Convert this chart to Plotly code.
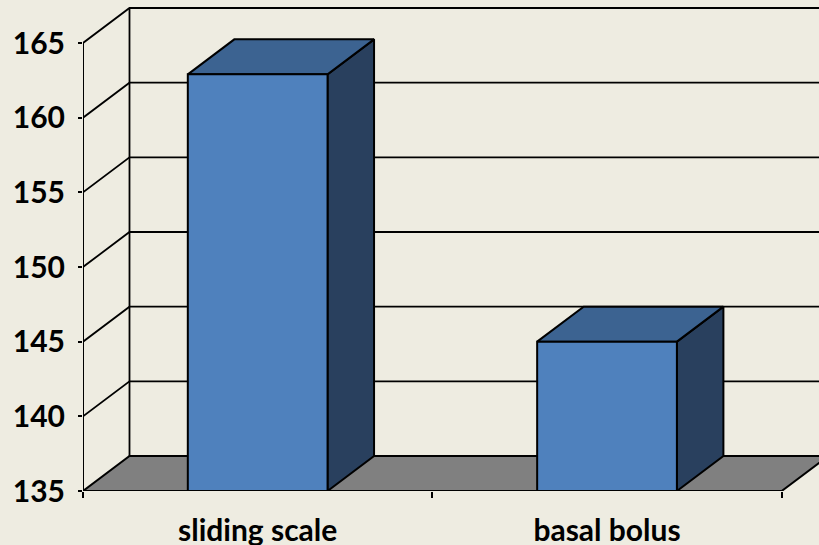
import plotly.graph_objects as go

# ---- data ----
categories = ["sliding scale", "basal bolus"]
values = [162.9, 145.0]
y_ticks = [135, 140, 145, 150, 155, 160, 165]

# ---- style / geometry ----
BG = "#EEECE1"
FRONT = "#4F81BD"
TOP = "#3C6391"
SIDE = "#29405E"
FLOOR = "#808080"
FONT = "Lato"

W, H = 819, 545
ML, MB = 83, 54
ymin, ymax_tick = 135, 165
px_per_x = (781.7 - 83) / 2.0          # pixels per category unit
px_per_y = (491 - 43) / 30.0           # pixels per value unit
x0 = -0.5
x_right = x0 + (W - ML) / px_per_x
y_top = ymin + (H - MB) / px_per_y
dx = 46.5 / px_per_x                   # depth offset (x)
dy = 35.0 / px_per_y                   # depth offset (y)
bw = 0.4                               # bar width (gap width 150%)
x_end = x0 + len(categories)

fig = go.Figure()

def poly(xs, ys, fill, lw=2.0):
    fig.add_trace(go.Scatter(x=xs + [xs[0]], y=ys + [ys[0]], mode="lines",
                             fill="toself", fillcolor=fill,
                             line=dict(color="black", width=lw),
                             hoverinfo="skip", showlegend=False))

def line(xs, ys, lw=1.8):
    fig.add_trace(go.Scatter(x=xs, y=ys, mode="lines",
                             line=dict(color="black", width=lw),
                             hoverinfo="skip", showlegend=False))

# floor
poly([x0, x0 + dx, x_end + dx, x_end], [ymin, ymin + dy, ymin + dy, ymin], FLOOR)

# gridlines on side wall + back wall
for v in y_ticks[1:]:
    line([x0, x0 + dx, x_right + 1], [v, v + dy, v + dy])
# back wall left edge
line([x0 + dx, x0 + dx], [ymin + dy, ymax_tick + dy])
# front value axis line
line([x0, x0], [ymin, ymax_tick], lw=2.0)
# front category axis line
line([x0, x_end], [ymin, ymin], lw=2.0)

# bars
for i, v in enumerate(values):
    l, r = i - bw / 2, i + bw / 2
    poly([r, r + dx, r + dx, r], [ymin, ymin + dy, v + dy, v], SIDE)
    poly([l, l + dx, r + dx, r], [v, v + dy, v + dy, v], TOP)
    poly([l, r, r, l], [ymin, ymin, v, v], FRONT)

fig.update_layout(
    width=W, height=H,
    margin=dict(l=ML, r=0, t=0, b=MB, pad=0, autoexpand=False),
    paper_bgcolor=BG, plot_bgcolor=BG,
    showlegend=False,
    xaxis=dict(range=[x0, x_right], showgrid=False, zeroline=False, showline=False,
               automargin=False,
               tickvals=list(range(len(categories))), ticktext=categories,
               ticks="", ticklabelstandoff=19,
               tickfont=dict(family=FONT, size=30, color="black", weight="bold"),
               minor=dict(tickvals=[x0 + k for k in range(len(categories) + 1)],
                          ticks="outside", ticklen=6, tickwidth=2, tickcolor="black",
                          showgrid=False),
               fixedrange=True),
    yaxis=dict(range=[ymin, y_top], showgrid=False, zeroline=False, showline=False,
               automargin=False,
               tickvals=y_ticks, ticks="outside", ticklen=4, tickwidth=2,
               tickcolor="black", ticklabelstandoff=7,
               tickfont=dict(family=FONT, size=30, color="black", weight="bold"),
               fixedrange=True),
)

fig.write_html("out.html")
